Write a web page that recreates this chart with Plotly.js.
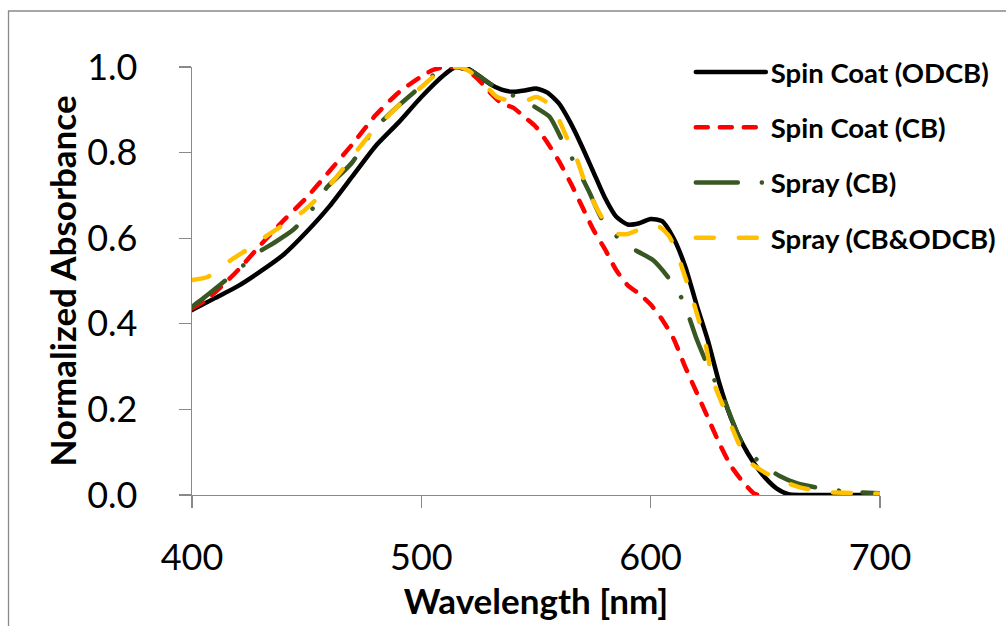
<!DOCTYPE html>
<html>
<head>
<meta charset="utf-8">
<script src="https://cdn.plot.ly/plotly-3.0.1.min.js"></script>
<style>
html, body { margin: 0; padding: 0; background: #fff; }
#chart { width: 1006px; height: 626px; }
.js-line { stroke-linecap: round; stroke-linejoin: round; }
</style>
</head>
<body>
<div id="chart"></div>
<script>
// Spin Coat (ODCB)
const odcbX = [400,410,420,430,440,450,460,470,480,490,500,510,515,520,525,530,535,540,545,550,555,560,565,570,575,580,585,590,595,600,605,610,615,620,625,630,635,640,645,650,655,660,665,680,700];
const odcbY = [0.432,0.46,0.488,0.523,0.562,0.615,0.675,0.745,0.815,0.87,0.93,0.982,1.0,0.997,0.98,0.96,0.947,0.942,0.945,0.95,0.94,0.915,0.87,0.815,0.755,0.695,0.65,0.632,0.635,0.645,0.64,0.6,0.535,0.445,0.36,0.26,0.18,0.12,0.075,0.04,0.015,0.002,0,0,0];

// Spin Coat (CB)
const cbX = [400,405,410,420,430,440,450,460,470,480,490,500,505,510,515,520,525,530,535,540,545,550,555,560,565,570,575,580,585,590,595,600,605,610,615,620,625,630,635,640,645,647];
const cbY = [0.436,0.452,0.473,0.525,0.585,0.642,0.695,0.757,0.82,0.887,0.94,0.978,0.993,1.0,1.0,0.993,0.97,0.94,0.915,0.905,0.883,0.86,0.823,0.78,0.73,0.675,0.62,0.575,0.525,0.49,0.47,0.445,0.41,0.365,0.3,0.24,0.18,0.12,0.068,0.032,0.004,0];

// Spray (CB)
const sprayX = [400,405,412,420,428,436,444,452,459,465,470,479,488,497,508,515,522,530,536,542,550,556,561,567,573,579,587,594,601,608,614,620,625,632,640,648,656,664,674,686,700];
const sprayY = [0.44,0.46,0.49,0.525,0.564,0.59,0.619,0.665,0.72,0.75,0.778,0.852,0.9,0.942,0.992,1.0,0.99,0.961,0.94,0.93,0.905,0.883,0.833,0.774,0.71,0.642,0.595,0.57,0.549,0.506,0.455,0.365,0.3,0.222,0.12,0.074,0.045,0.027,0.016,0.008,0.004];

// Spray (CB&ODCB)
const mixX = [400,407,417,426,434,441,449,456,463,472,478,485,492,500,507,512,517,521,526,533,540,546,550,554,558,563,568,572,577,581,585,590,594,598,604,608,611,615,619,624,627,633,638,642,649,656,665,674,685,694,700];
const mixY = [0.502,0.51,0.549,0.58,0.611,0.635,0.665,0.7,0.743,0.805,0.845,0.883,0.92,0.953,0.985,0.997,1.0,0.99,0.969,0.93,0.92,0.922,0.93,0.92,0.899,0.84,0.782,0.72,0.665,0.63,0.611,0.61,0.618,0.626,0.626,0.605,0.572,0.51,0.445,0.35,0.27,0.19,0.125,0.082,0.055,0.035,0.018,0.008,0.005,0.004,0.003];

const seriesNames = ['Spin Coat (ODCB)', 'Spin Coat (CB)', 'Spray (CB)', 'Spray (CB&ODCB)'];
const xTicks = [400, 500, 600, 700];
const yTicks = [0, 0.2, 0.4, 0.6, 0.8, 1.0];

const W = 4.5;
const traces = [
  {x: odcbX, y: odcbY, name: seriesNames[0], legendgroup: 'a', line: {color: '#000000', width: W, shape: 'spline', smoothing: 0.6}},
  {x: cbX, y: cbY, name: seriesNames[1], legendgroup: 'b', line: {color: '#FF0000', width: W, dash: '12px,12px', shape: 'spline', smoothing: 0.6}},
  {x: sprayX, y: sprayY, name: seriesNames[2], legendgroup: 'c', line: {color: '#385723', width: W, dash: '42px,24px,0.1px,24px', shape: 'spline', smoothing: 0.6}},
  {x: mixX, y: mixY, name: seriesNames[3], legendgroup: 'd', line: {color: '#FFC000', width: W, dash: '18px,25px', shape: 'spline', smoothing: 0.6}}
].map(t => Object.assign({type: 'scatter', mode: 'lines', hoverinfo: 'skip'}, t));

const axisCommon = {
  showgrid: false, zeroline: false, showline: true, linecolor: '#898989', linewidth: 1.3,
  ticks: 'outside', ticklen: 12, tickwidth: 1.3, tickcolor: '#898989',
  tickfont: {family: 'Lato, sans-serif', size: 36, color: '#000'}
};

const layout = {
  width: 1006, height: 626,
  margin: {l: 192, r: 126, t: 67, b: 131, pad: 0, autoexpand: false},
  paper_bgcolor: '#fff', plot_bgcolor: '#fff',
  showlegend: true,
  xaxis: Object.assign({}, axisCommon, {
    range: [400, 700], tickvals: xTicks, ticklabelstandoff: 18, automargin: false,
    title: {text: 'Wavelength [nm]', font: {family: 'Lato, sans-serif', size: 35, weight: 'bold', color: '#000'}, standoff: 13}
  }),
  yaxis: Object.assign({}, axisCommon, {
    range: [0, 1.0], tickvals: yTicks, tickformat: '.1f', ticklabelstandoff: 34, automargin: false,
    title: {text: 'Normalized Absorbance', font: {family: 'Lato, sans-serif', size: 35, weight: 'bold', color: '#000'}, standoff: 0}
  }),
  legend: {
    x: 0.725, y: 1.045, xanchor: 'left', yanchor: 'top',
    bgcolor: 'rgba(0,0,0,0)', borderwidth: 0,
    traceorder: 'grouped', tracegroupgap: 16.5,
    itemwidth: 70,
    font: {family: 'Lato, sans-serif', size: 27.5, weight: 'bold', color: '#000'}
  },
  shapes: [{
    type: 'rect', xref: 'paper', yref: 'paper', layer: 'below',
    x0: -0.2667, x1: 1.19, y0: -0.34, y1: 1.1308,
    line: {color: '#898989', width: 1.3}, fillcolor: 'rgba(0,0,0,0)'
  }]
};

Plotly.newPlot('chart', traces, layout, {staticPlot: true, displayModeBar: false});
</script>
</body>
</html>
